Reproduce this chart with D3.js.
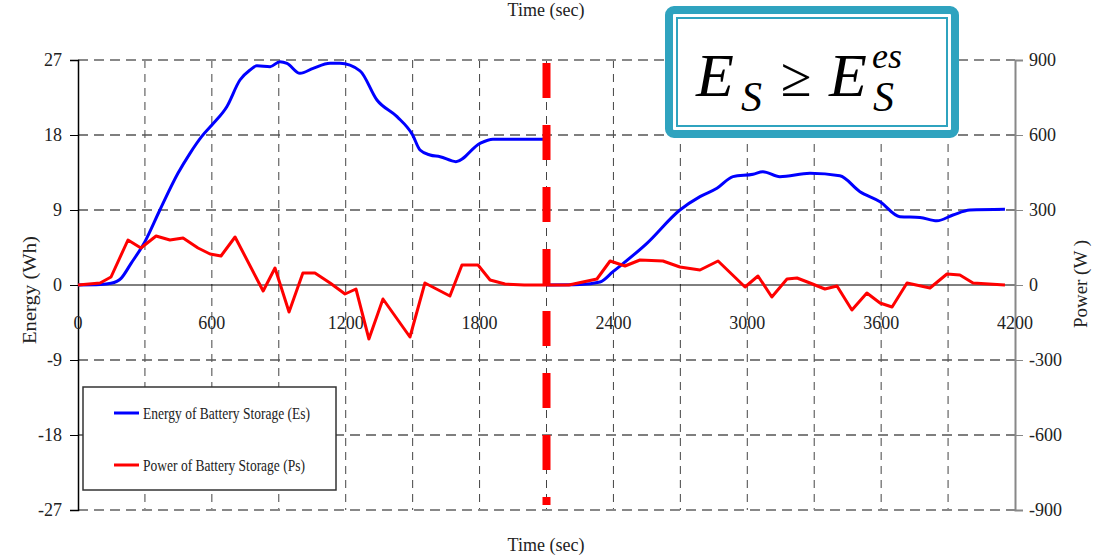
<html>
<head>
  <title>battery storage</title>
</head>
<style>
  body { margin: 0; padding: 0; background: #fff; }
  text { font-family: "Liberation Serif", "DejaVu Serif", serif; fill: #222; }
</style>
<body>
  <div id="chart"></div>
</body>
<script src="https://cdn.jsdelivr.net/npm/d3@7"></script>
<script>
  // 時間 (sec) と エネルギー (Wh)
  const timeE = [0, 100, 148, 193, 238, 300, 367, 448, 502, 554, 607, 667, 726, 771, 802, 861, 905, 937, 995, 1054, 1130, 1174, 1264, 1340, 1430, 1500, 1533, 1578, 1623, 1694, 1802, 1860, 2100,
    null,
    2100, 2250, 2340, 2398, 2550, 2698, 2788, 2864, 2936, 3026, 3070, 3146, 3281, 3415, 3505, 3595, 3684, 3774, 3850, 3922, 3998, 4155]
  const energy = [0, 0.05, 0.2, 0.8, 2.6, 5.2, 9, 13.4, 15.8, 17.8, 19.4, 21.4, 24.6, 25.8, 26.3, 26.2, 26.8, 26.6, 25.4, 26, 26.6, 26.6, 25.7, 22.2, 20.2, 18, 16.2, 15.6, 15.4, 14.8, 17, 17.5, 17.5,
    null,
    0, 0.05, 0.36, 1.6, 5, 9, 10.6, 11.6, 13, 13.3, 13.6, 13, 13.4, 13.1, 11.2, 10, 8.2, 8.1, 7.7, 8.4, 9, 9.1]

  // 時間 (sec) と 電力 (W)
  const timeP = [0, 99, 148, 224, 282, 350, 412, 471, 538, 592, 641, 704, 830, 883, 946, 1008, 1062, 1130, 1197, 1246, 1304, 1367, 1488, 1555, 1667, 1721, 1793, 1847, 1914, 2000, 2200, 2326, 2385, 2452, 2519, 2622, 2698, 2788, 2869, 2990, 3048, 3110, 3178, 3223, 3281, 3348, 3402, 3469, 3536, 3595, 3649, 3716, 3819, 3895, 3953, 4012, 4155]
  const power = [0, 8, 32, 180, 148, 196, 180, 188, 148, 124, 116, 192, -24, 68, -108, 48, 48, 8, -36, -16, -216, -56, -208, 8, -44, 80, 80, 20, 4, 0, 0, 24, 96, 76, 100, 96, 72, 60, 96, -8, 36, -48, 24, 28, 8, -16, -4, -100, -32, -72, -88, 8, -12, 44, 40, 8, 0]

  const xTicks = [0, 600, 1200, 1800, 2400, 3000, 3600, 4200]
  const yLeftTicks = [-27, -18, -9, 0, 9, 18, 27]
  const yRightTicks = [-900, -600, -300, 0, 300, 600, 900]
  const switchTime = 2100
  const legendNames = ["Energy of Battery Storage (Es)", "Power of Battery Storage (Ps)"]

  const width = 1104
  const height = 555
  const svg = d3.select("#chart").append("svg")
    .attr("width", width)
    .attr("height", height)

  const x = d3.scaleLinear().domain([0, 4200]).range([78, 1015])
  const yL = d3.scaleLinear().domain([-27, 27]).range([510, 60])
  const yR = d3.scaleLinear().domain([-900, 900]).range([510, 60])

  // 縦グリッド
  svg.append("g").selectAll("line").data(d3.range(300, 4200, 300)).join("line")
    .attr("x1", d => x(d)).attr("x2", d => x(d))
    .attr("y1", 60).attr("y2", 510)
    .attr("stroke", "#444").attr("stroke-width", 1)
    .attr("stroke-dasharray", "8,6")

  // 横グリッド
  svg.append("g").selectAll("line").data(yLeftTicks.filter(d => d !== 0)).join("line")
    .attr("x1", 78).attr("x2", 1015)
    .attr("y1", d => yL(d)).attr("y2", d => yL(d))
    .attr("stroke", d => Math.abs(d) === 27 ? "#888" : "#555")
    .attr("stroke-width", d => Math.abs(d) === 27 ? 2 : 1.3)
    .attr("stroke-dasharray", "10,6")

  // ゼロ線
  svg.append("line")
    .attr("x1", 78).attr("x2", 1015)
    .attr("y1", yL(0)).attr("y2", yL(0))
    .attr("stroke", "#000").attr("stroke-width", 1)

  // 左軸
  const leftAxis = svg.append("g").attr("transform", "translate(78,0)")
    .call(d3.axisLeft(yL).tickValues(yLeftTicks).tickFormat(d => String(d)).tickSize(8).tickPadding(8))
  leftAxis.select(".domain").attr("stroke", "#000").attr("stroke-width", 1.5)
  leftAxis.selectAll("text").attr("font-size", 18).attr("font-family", "Liberation Serif").attr("fill", "#222")

  // 右軸
  const rightAxis = svg.append("g").attr("transform", "translate(1015,0)")
    .call(d3.axisRight(yR).tickValues(yRightTicks).tickFormat(d => String(d)).tickSize(8).tickPadding(6))
  rightAxis.select(".domain").attr("stroke", "#888").attr("stroke-width", 2)
  rightAxis.selectAll(".tick line").attr("stroke", "#888")
  rightAxis.selectAll("text").attr("font-size", 18).attr("font-family", "Liberation Serif").attr("fill", "#222")

  // x目盛ラベル
  svg.append("g").selectAll("text").data(xTicks).join("text")
    .attr("x", d => x(d)).attr("y", 329)
    .attr("text-anchor", "middle")
    .attr("font-size", 18)
    .text(d => d)

  // 軸タイトル
  svg.append("text").attr("x", 546).attr("y", 16)
    .attr("text-anchor", "middle").attr("font-size", 18).text("Time (sec)")
  svg.append("text").attr("x", 546).attr("y", 551)
    .attr("text-anchor", "middle").attr("font-size", 18).text("Time (sec)")
  svg.append("text").attr("transform", "translate(36,290) rotate(-90)")
    .attr("text-anchor", "middle").attr("font-size", 18)
    .attr("textLength", 108).attr("lengthAdjust", "spacingAndGlyphs")
    .text("Energy (Wh)")
  svg.append("text").attr("transform", "translate(1087,284) rotate(-90)")
    .attr("text-anchor", "middle").attr("font-size", 18)
    .attr("textLength", 88).attr("lengthAdjust", "spacingAndGlyphs")
    .text("Power (W )")

  // エネルギー曲線
  const eData = timeE.map((t, i) => ({ t: t, v: energy[i] }))
  svg.append("path")
    .datum(eData)
    .attr("fill", "none")
    .attr("stroke", "#0000ff")
    .attr("stroke-width", 3)
    .attr("d", d3.line().defined(d => d.t !== null).x(d => x(d.t)).y(d => yL(d.v)).curve(d3.curveMonotoneX))

  // 電力曲線
  const pData = timeP.map((t, i) => ({ t: t, v: power[i] }))
  svg.append("path")
    .datum(pData)
    .attr("fill", "none")
    .attr("stroke", "#ff0000")
    .attr("stroke-width", 3)
    .attr("stroke-linejoin", "round")
    .attr("d", d3.line().x(d => x(d.t)).y(d => yR(d.v)))

  // 切替線
  svg.append("line")
    .attr("x1", x(switchTime)).attr("x2", x(switchTime))
    .attr("y1", 63).attr("y2", 505)
    .attr("stroke", "#ff0000").attr("stroke-width", 8)
    .attr("stroke-dasharray", "35,27")

  // 凡例
  const lg = svg.append("g")
  lg.append("rect").attr("x", 83).attr("y", 387).attr("width", 253).attr("height", 103)
    .attr("fill", "#fff").attr("stroke", "#333").attr("stroke-width", 1.5)
  const legendColors = ["#0000ff", "#ff0000"]
  const legendLens = [167, 162]
  legendNames.forEach((n, i) => {
    const yy = 413 + i * 52
    lg.append("line").attr("x1", 114).attr("x2", 139).attr("y1", yy).attr("y2", yy)
      .attr("stroke", legendColors[i]).attr("stroke-width", 3)
    lg.append("text").attr("x", 143).attr("y", yy + 6)
      .attr("font-size", 17)
      .attr("textLength", legendLens[i]).attr("lengthAdjust", "spacingAndGlyphs")
      .text(n)
  })

  // 数式ボックス
  const box = svg.append("g")
  box.append("rect").attr("x", 669).attr("y", 10).attr("width", 286).attr("height", 124)
    .attr("rx", 5).attr("fill", "#fff").attr("stroke", "#2fa3bf").attr("stroke-width", 8)
  box.append("rect").attr("x", 677).attr("y", 18).attr("width", 270).attr("height", 108)
    .attr("fill", "none").attr("stroke", "#2fa3bf").attr("stroke-width", 2)
  const eq = box.append("text").attr("font-style", "italic").style("fill", "#000")
  eq.append("tspan").attr("x", 696).attr("y", 96).attr("font-size", 62).text("E")
  eq.append("tspan").attr("x", 741).attr("y", 111).attr("font-size", 42).text("S")
  eq.append("tspan").attr("x", 781).attr("y", 96).attr("font-size", 56).attr("font-style", "normal").text("≥")
  eq.append("tspan").attr("x", 829).attr("y", 96).attr("font-size", 62).text("E")
  eq.append("tspan").attr("x", 872).attr("y", 68).attr("font-size", 36).text("es")
  eq.append("tspan").attr("x", 873).attr("y", 111).attr("font-size", 42).text("S")
</script>
</html>
